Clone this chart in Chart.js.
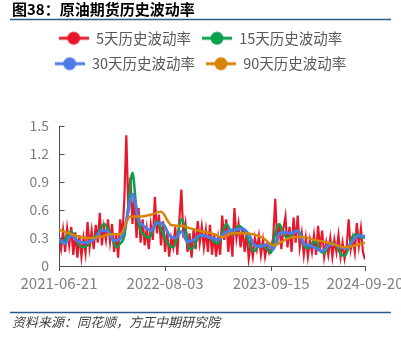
<!DOCTYPE html>
<html>
<head>
<meta charset="utf-8">
<script src="https://cdn.jsdelivr.net/npm/chart.js@4.4.1/dist/chart.umd.min.js"></script>
<style>
  html, body { margin: 0; padding: 0; background: #fff; overflow: hidden; }
  canvas { display: block; }
</style>
</head>
<body>
<canvas id="chart" width="401" height="337"></canvas>
<script>
// Chart text
const chartTitle = '图38：原油期货历史波动率';
const sourceNote = '资料来源：同花顺，方正中期研究院';
const seriesNames = ['5天历史波动率', '15天历史波动率', '30天历史波动率', '90天历史波动率'];

// X axis: sample index, labelled at these positions
const xMax = 150;
const xTickPos = [0, 52, 104, 150];
const xTickLabels = ['2021-06-21', '2022-08-03', '2023-09-15', '2024-09-20'];
const yTickValues = [0, 0.3, 0.6, 0.9, 1.2, 1.5];

// 5-day historical volatility (every sample)
const vol5Step = 1;
const vol5 = [
  0.30, 0.18, 0.38, 0.15, 0.40, 0.22, 0.42, 0.12, 0.36, 0.09, 0.33,
  0.10, 0.30, 0.14, 0.47, 0.20, 0.38, 0.18, 0.44, 0.25, 0.57,
  0.22, 0.42, 0.28, 0.50, 0.26, 0.45, 0.15, 0.35, 0.09, 0.50,
  0.30, 0.70, 1.40, 0.62, 0.95, 0.45, 0.78, 0.30, 0.62, 0.25,
  0.50, 0.22, 0.40, 0.18, 0.44, 0.28, 0.74, 0.35, 0.55, 0.22,
  0.48, 0.15, 0.38, 0.10, 0.30, 0.20, 0.42, 0.12, 0.50, 0.82,
  0.30, 0.45, 0.15, 0.35, 0.09, 0.40, 0.18, 0.48, 0.25, 0.42,
  0.20, 0.38, 0.15, 0.44, 0.12, 0.35, 0.10, 0.30, 0.12, 0.54,
  0.28, 0.50, 0.15, 0.38, 0.10, 0.62, 0.30, 0.45, 0.20, 0.40,
  0.15, 0.35, 0.08, 0.25, 0.10, 0.30, 0.18, 0.32, 0.12, 0.28,
  0.10, 0.22, 0.14, 0.20, 0.30, 0.72, 0.25, 0.45, 0.18, 0.40,
  0.53, 0.20, 0.42, 0.15, 0.52, 0.25, 0.54, 0.20, 0.35, 0.12,
  0.30, 0.10, 0.28, 0.15, 0.33, 0.12, 0.43, 0.18, 0.38, 0.10,
  0.25, 0.12, 0.30, 0.10, 0.28, 0.15, 0.33, 0.10, 0.25, 0.08,
  0.20, 0.50, 0.18, 0.30, 0.15, 0.46, 0.22, 0.40, 0.15, 0.07
];

// 15-day historical volatility (every 2nd sample)
const vol15Step = 2;
const vol15 = [
  0.28, 0.24, 0.33, 0.37, 0.30, 0.22, 0.20, 0.22, 0.30, 0.32,
  0.38, 0.45, 0.40, 0.30, 0.20, 0.24, 0.32, 0.65, 1.00, 0.60,
  0.38, 0.33, 0.30, 0.38, 0.48, 0.40, 0.30, 0.22, 0.20, 0.32,
  0.50, 0.40, 0.18, 0.20, 0.30, 0.33, 0.32, 0.30, 0.26, 0.24,
  0.35, 0.45, 0.38, 0.34, 0.43, 0.40, 0.33, 0.20, 0.16, 0.22,
  0.22, 0.18, 0.14, 0.35, 0.45, 0.35, 0.30, 0.34, 0.38, 0.36,
  0.22, 0.19, 0.24, 0.26, 0.16, 0.14, 0.22, 0.25, 0.22, 0.13,
  0.11, 0.20, 0.32, 0.34, 0.30, 0.33
];

// 30-day historical volatility (every 3rd sample)
const vol30Step = 3;
const vol30 = [
  0.30, 0.24, 0.33, 0.27, 0.25, 0.26, 0.30, 0.38, 0.37, 0.27,
  0.29, 0.48, 0.77, 0.50, 0.42, 0.38, 0.46, 0.45, 0.33, 0.30,
  0.37, 0.26, 0.28, 0.33, 0.32, 0.30, 0.28, 0.35, 0.38, 0.39,
  0.40, 0.34, 0.22, 0.21, 0.23, 0.18, 0.35, 0.36, 0.35, 0.38,
  0.24, 0.22, 0.19, 0.16, 0.22, 0.23, 0.20, 0.19, 0.27, 0.33,
  0.30
];

// 90-day historical volatility (every 5th sample)
const vol90Step = 5;
const vol90 = [
  0.39, 0.35, 0.31, 0.30, 0.31, 0.34, 0.34, 0.53, 0.53, 0.55,
  0.58, 0.44, 0.43, 0.40, 0.37, 0.35, 0.31, 0.35, 0.35, 0.34,
  0.30, 0.22, 0.27, 0.31, 0.31, 0.28, 0.26, 0.23, 0.20, 0.22,
  0.25
];

const seriesColors = ['#e8182c', '#08a04a', '#4f7be8', '#d8840a'];
const axisColor = '#4d4d4d';
const tickColor = '#808080';
const fontFamily = "'Noto Sans CJK SC', 'Noto Sans', sans-serif";

Chart.defaults.font.family = fontFamily;

function toPoints(values, step) {
  return values.map((v, k) => ({ x: k * step, y: v }));
}

// Legend symbol: short line with a dot in the middle
function legendMarker(color) {
  const c = document.createElement('canvas');
  c.width = 30; c.height = 16;
  const g = c.getContext('2d');
  g.strokeStyle = color; g.lineWidth = 3;
  g.beginPath(); g.moveTo(0, 8); g.lineTo(30, 8); g.stroke();
  g.fillStyle = color;
  g.beginPath(); g.arc(15, 8, 6.5, 0, Math.PI * 2); g.fill();
  return c;
}

// Heading, rules, source note and inward y-axis ticks
const frame = {
  id: 'frame',
  beforeUpdate(chart) {
    const legend = chart.legend;
    if (legend && !legend._extraSpace) {
      const fit = legend.fit;
      legend.fit = function () { fit.call(this); this.height += 45; };
      legend._extraSpace = true;
    }
  },
  beforeDraw(chart) {
    const ctx = chart.ctx;
    ctx.save();
    ctx.fillStyle = '#ffffff';
    ctx.fillRect(0, 0, chart.width, chart.height);
    ctx.restore();
  },
  afterDraw(chart) {
    const ctx = chart.ctx;
    ctx.save();
    ctx.fillStyle = '#000000';
    ctx.font = "bold 15px " + fontFamily;
    ctx.textBaseline = 'middle';
    ctx.textAlign = 'left';
    ctx.fillText(chartTitle, 12, 9.5);

    ctx.strokeStyle = '#2b5a88';
    ctx.lineWidth = 1.5;
    ctx.beginPath(); ctx.moveTo(10, 19.5); ctx.lineTo(391, 19.5); ctx.stroke();
    ctx.beginPath(); ctx.moveTo(10, 312.5); ctx.lineTo(391, 312.5); ctx.stroke();

    ctx.fillStyle = '#404040';
    ctx.font = "italic 13px " + fontFamily;
    ctx.fillText(sourceNote, 12, 322.5);

    const yScale = chart.scales.y;
    const x0 = Math.round(chart.chartArea.left) + 0.5;
    ctx.strokeStyle = axisColor;
    ctx.lineWidth = 1;
    yTickValues.forEach(v => {
      const py = Math.round(yScale.getPixelForValue(v)) + 0.5;
      ctx.beginPath(); ctx.moveTo(x0, py); ctx.lineTo(x0 + 5, py); ctx.stroke();
    });
    ctx.restore();
  }
};

const smooth = { tension: 0.4, cubicInterpolationMode: 'monotone' };

new Chart(document.getElementById('chart'), {
  type: 'line',
  data: {
    datasets: [
      { label: seriesNames[0], data: toPoints(vol5, vol5Step), borderColor: seriesColors[0],
        backgroundColor: seriesColors[0], borderWidth: 2.2, tension: 0, order: 4,
        pointStyle: legendMarker(seriesColors[0]) },
      Object.assign({ label: seriesNames[1], data: toPoints(vol15, vol15Step), borderColor: seriesColors[1],
        backgroundColor: seriesColors[1], borderWidth: 2.5, order: 3,
        pointStyle: legendMarker(seriesColors[1]) }, smooth),
      Object.assign({ label: seriesNames[2], data: toPoints(vol30, vol30Step), borderColor: seriesColors[2],
        backgroundColor: seriesColors[2], borderWidth: 3, order: 2,
        pointStyle: legendMarker(seriesColors[2]) }, smooth),
      Object.assign({ label: seriesNames[3], data: toPoints(vol90, vol90Step), borderColor: seriesColors[3],
        backgroundColor: seriesColors[3], borderWidth: 2.5, order: 1,
        pointStyle: legendMarker(seriesColors[3]) }, smooth)
    ]
  },
  options: {
    responsive: false,
    animation: false,
    devicePixelRatio: 1,
    layout: { padding: { top: 20, left: 0, right: 0, bottom: 40 } },
    elements: { point: { radius: 0, hoverRadius: 0 } },
    plugins: {
      title: { display: false },
      tooltip: { enabled: false },
      legend: {
        position: 'top',
        align: 'center',
        labels: {
          usePointStyle: true,
          pointStyleWidth: 30,
          padding: 11,
          color: '#595959',
          font: { size: 14.5 },
          sort: (a, b) => a.datasetIndex - b.datasetIndex
        }
      }
    },
    scales: {
      x: {
        type: 'linear',
        min: 0,
        max: xMax,
        afterBuildTicks: s => { s.ticks = xTickPos.map(v => ({ value: v })); },
        afterFit: s => { s.height = 31; s.paddingLeft = 0; s.paddingRight = 36; },
        grid: { display: true, drawOnChartArea: false, drawTicks: true, tickLength: 5, color: axisColor },
        border: { display: true, color: axisColor, width: 1 },
        ticks: {
          autoSkip: false, maxRotation: 0, minRotation: 0, padding: 3,
          color: tickColor, font: { size: 15 },
          callback: (v, i) => xTickLabels[i]
        }
      },
      y: {
        min: 0,
        max: 1.5,
        afterBuildTicks: s => { s.ticks = yTickValues.map(v => ({ value: v })); },
        afterFit: s => { s.width = 59; },
        grid: { display: false, drawTicks: false },
        border: { display: true, color: axisColor, width: 1 },
        ticks: {
          padding: 10,
          color: tickColor, font: { size: 14 },
          callback: v => (v === 0 ? '0' : v.toFixed(1))
        }
      }
    }
  },
  plugins: [frame]
});
</script>
</body>
</html>
